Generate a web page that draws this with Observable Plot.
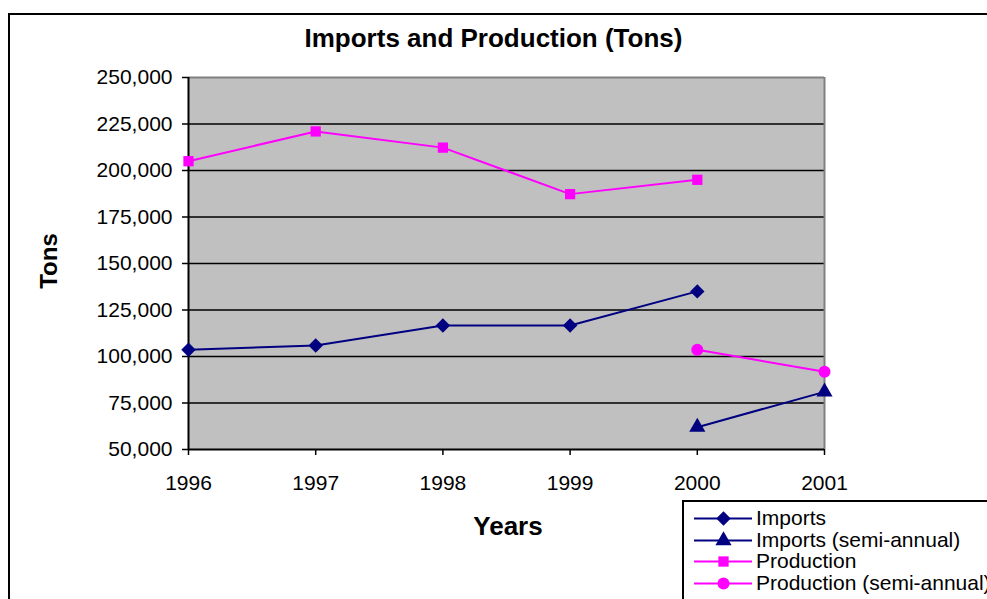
<!DOCTYPE html>
<html>
<head>
<meta charset="utf-8">
<script src="https://cdn.jsdelivr.net/npm/d3@7"></script>
<script src="https://cdn.jsdelivr.net/npm/@observablehq/plot@0.6"></script>
<style>
  html, body { margin: 0; padding: 0; background: #fff; overflow: hidden; }
  #wrap { position: relative; width: 987px; height: 599px; font-family: "Liberation Sans", Arial, sans-serif; }
  #frame { position: absolute; left: 8px; top: 13px; width: 1000px; height: 700px; border: 2px solid #000; box-sizing: border-box; }
  #chart { position: absolute; left: 0; top: 0; }
  .title { position: absolute; left: 0; width: 987px; top: 23px; text-align: center; font-weight: bold; font-size: 26px; line-height: 30px; }
  .xtitle { position: absolute; left: 408px; width: 200px; top: 511px; text-align: center; font-weight: bold; font-size: 26px; line-height: 30px; }
  .ytitle { position: absolute; left: 49px; top: 261px; transform: translate(-50%, -50%) rotate(-90deg); font-weight: bold; font-size: 24px; line-height: 26px; white-space: nowrap; }
  #legend { position: absolute; left: 682px; top: 500px; width: 400px; height: 200px; border: 2px solid #000; box-sizing: border-box; background: #fff; }
  .row { position: absolute; left: 10px; height: 22px; display: flex; align-items: center; font-size: 21px; white-space: nowrap; }
  .row svg { margin-right: 4px; }
</style>
</head>
<body>
<div id="wrap">
  <div id="frame"></div>
  <div id="chart"></div>
  <div class="title">Imports and Production (Tons)</div>
  <div class="ytitle">Tons</div>
  <div class="xtitle">Years</div>
  <div id="legend"></div>
</div>
<script>
// ---- data ----
const years = [1996, 1997, 1998, 1999, 2000];
const imports = [103600, 105900, 116700, 116700, 135000];
const production = [205000, 221000, 212300, 187300, 195000];
const semiYears = [2000, 2001];
const importsSemi = [62000, 81000];
const productionSemi = [103600, 91800];
const xTicks = [1996, 1997, 1998, 1999, 2000, 2001];
const yTicks = [50000, 75000, 100000, 125000, 150000, 175000, 200000, 225000, 250000];

const seriesNames = ["Imports", "Imports (semi-annual)", "Production", "Production (semi-annual)"];
const seriesColors = ["#000080", "#000080", "#FF00FF", "#FF00FF"];
const seriesSymbols = ["diamond2", "triangle", "square", "circle"];
const seriesR = [6.5, 6, 5.8, 6];

function rows(xs, ys, name) { return xs.map((x, i) => ({year: x, value: ys[i], series: name})); }
const data = [
  rows(years, imports, seriesNames[0]),
  rows(semiYears, importsSemi, seriesNames[1]),
  rows(years, production, seriesNames[2]),
  rows(semiYears, productionSemi, seriesNames[3])
];

const marks = [
  Plot.frame({fill: "#C0C0C0", stroke: null}),
  Plot.ruleY(yTicks.slice(1, -1), {stroke: "#000", strokeWidth: 1.5}),
  Plot.ruleY([250000], {stroke: "#808080", strokeWidth: 2}),
  Plot.ruleX([2001], {stroke: "#808080", strokeWidth: 2}),
  Plot.ruleX([1996], {stroke: "#000", strokeWidth: 2}),
  Plot.ruleY([50000], {stroke: "#000", strokeWidth: 2}),
  Plot.axisY({ticks: yTicks, tickSize: 6, tickPadding: 10, tickFormat: d3.format(","), fontSize: 21, label: null, stroke: "#000", strokeWidth: 1.5}),
  Plot.axisX({ticks: xTicks, tickSize: 6, tickPadding: 20, tickFormat: d3.format("d"), fontSize: 21, label: null, stroke: "#000", strokeWidth: 1.5})
];
data.forEach((d, i) => {
  marks.push(Plot.line(d, {x: "year", y: "value", stroke: seriesColors[i], strokeWidth: 2}));
  marks.push(Plot.dot(d, {x: "year", y: "value", symbol: () => seriesSymbols[i], r: seriesR[i], fill: seriesColors[i], stroke: "none"}));
});

const chart = Plot.plot({
  width: 987,
  height: 599,
  marginLeft: 188,
  marginRight: 163,
  marginTop: 77,
  marginBottom: 150,
  style: {fontFamily: "'Liberation Sans', Arial, sans-serif", color: "#000", background: "transparent", overflow: "visible"},
  x: {domain: [1996, 2001]},
  y: {domain: [50000, 250000]},
  symbol: {type: "identity"},
  marks
});
document.getElementById("chart").append(chart);

// legend
const legend = document.getElementById("legend");
seriesNames.forEach((name, i) => {
  const row = document.createElement("div");
  row.className = "row";
  row.style.top = (5 + i * 21.7) + "px";
  const sym = Plot.dot([0], {x: () => 0, y: () => 0, symbol: () => seriesSymbols[i], r: seriesR[i], fill: seriesColors[i]});
  const s = Plot.plot({
    width: 58, height: 22, margin: 0,
    x: {domain: [-1, 1], axis: null}, y: {domain: [-1, 1], axis: null},
    symbol: {type: "identity"},
    marks: [Plot.ruleY([0], {stroke: seriesColors[i], strokeWidth: 2}), sym]
  });
  row.append(s);
  const t = document.createElement("span");
  t.textContent = name;
  row.append(t);
  legend.append(row);
});
</script>
</body>
</html>
